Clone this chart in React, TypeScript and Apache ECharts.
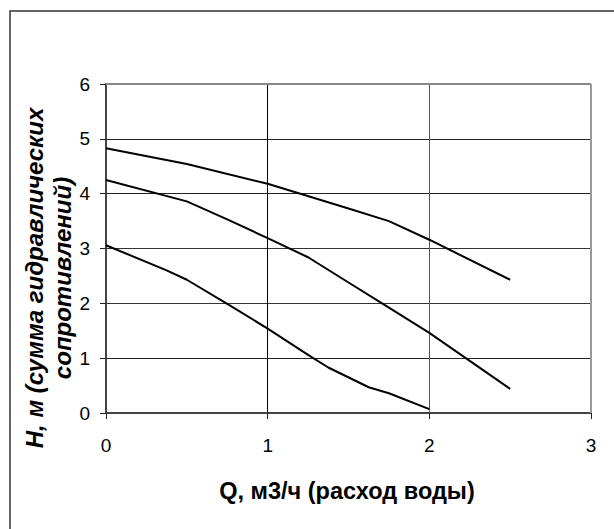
import React, { useEffect, useRef } from "react";
import * as echarts from "echarts";

const xTicks = [0, 1, 2, 3];
const yTicks = [0, 1, 2, 3, 4, 5, 6];
const curveTop: [number, number][] = [
  [0, 4.83], [0.5, 4.54], [1, 4.18], [1.5, 3.73], [1.75, 3.5], [2, 3.16], [2.5, 2.43],
];
const curveMid: [number, number][] = [
  [0, 4.25], [0.5, 3.86], [0.75, 3.53], [1, 3.19], [1.25, 2.84], [1.5, 2.38], [1.75, 1.92], [2, 1.46], [2.5, 0.44],
];
const curveLow: [number, number][] = [
  [0, 3.06], [0.375, 2.6], [0.5, 2.43], [0.75, 1.99], [1, 1.54], [1.25, 1.06], [1.375, 0.83], [1.625, 0.47], [1.75, 0.36], [2, 0.07],
];
const xTitle = "Q, м3/ч (расход воды)";
const yTitle = "H, м (сумма гидравлических\nсопротивлений)";

const FONT = "Arial, 'Liberation Sans', sans-serif";

export default function App() {
  const ref = useRef<HTMLDivElement>(null);
  useEffect(() => {
    document.body.style.margin = "0";
    const chart = echarts.init(ref.current!, null, { renderer: "svg" });
    const line = (data: [number, number][]) => ({
      type: "line",
      data,
      showSymbol: false,
      symbol: "none",
      lineStyle: { color: "#000", width: 2 },
      silent: true,
    });
    const labelStyle = { color: "#000", fontSize: 19, fontFamily: "Arial" };
    chart.setOption({
      animation: false,
      backgroundColor: "#fff",
      grid: { left: 106, right: 23, top: 84, bottom: 116 },
      xAxis: {
        type: "value",
        min: xTicks[0],
        max: xTicks[xTicks.length - 1],
        interval: 1,
        axisLine: { show: true, lineStyle: { color: "#444", width: 2 } },
        axisTick: { show: true, length: 6, lineStyle: { color: "#222" } },
        axisLabel: { ...labelStyle, margin: 23 },
        splitLine: { show: true, lineStyle: { color: ["#000", "#000", "#555", "#999"], width: 1 } },
      },
      yAxis: {
        type: "value",
        min: yTicks[0],
        max: yTicks[yTicks.length - 1],
        interval: 1,
        axisLine: { show: true, lineStyle: { color: "#444", width: 2 } },
        axisTick: { show: true, length: 6, lineStyle: { color: "#222" } },
        axisLabel: { ...labelStyle, margin: 16 },
        splitLine: {
          show: true,
          lineStyle: { color: ["#333", "#222", "#333", "#333", "#222", "#222", "#888"], width: 1 },
        },
      },
      graphic: [
        {
          type: "rect",
          shape: { x: 10, y: 11, width: 800, height: 700 },
          style: { fill: "none", stroke: "#333", lineWidth: 1.5 },
          silent: true,
        },
        {
          type: "line",
          shape: { x1: 106, y1: 84, x2: 591, y2: 84 },
          style: { stroke: "#888", lineWidth: 2 },
          z: 10,
        },
        {
          type: "line",
          shape: { x1: 591, y1: 84, x2: 591, y2: 413 },
          style: { stroke: "#999", lineWidth: 2 },
          z: 10,
        },
        {
          type: "text",
          x: 347,
          y: 491,
          style: {
            text: xTitle,
            font: `bold 23.5px ${FONT}`,
            fill: "#000",
            align: "center",
            verticalAlign: "middle",
          },
        },
        {
          type: "text",
          x: 48,
          y: 278,
          rotation: Math.PI / 2,
          style: {
            text: yTitle,
            font: `italic bold 24px ${FONT}`,
            fill: "#000",
            align: "center",
            verticalAlign: "middle",
            lineHeight: 28,
          },
        },
      ],
      series: [line(curveTop), line(curveMid), line(curveLow)],
    });
    return () => chart.dispose();
  }, []);
  return <div ref={ref} style={{ width: 614, height: 529 }} />;
}
